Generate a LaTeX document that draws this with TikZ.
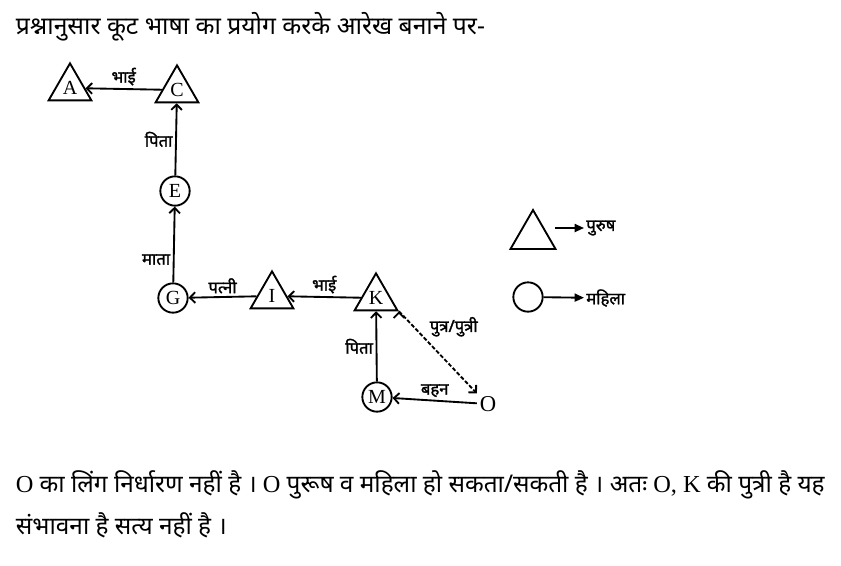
\documentclass[tikz,border=0pt]{standalone}
\usepackage{fontspec}
\setmainfont{Liberation Serif}
\newfontfamily\hindi[Script=Devanagari]{Noto Sans}
\newfontfamily\hindibold[Script=Devanagari, FakeBold=1.5]{Noto Sans}
\usetikzlibrary{shapes.geometric,arrows.meta}

\begin{document}
\begin{tikzpicture}[x=0.75pt, y=-0.75pt, line width=1.4pt,
male_style/.style={regular polygon, regular polygon sides=3, draw=black, minimum size=37pt, inner sep=0pt, font=\fontsize{15}{15}\selectfont},
female_style/.style={circle, draw=black, minimum size=22pt, inner sep=0pt, font=\fontsize{15}{15}\selectfont},
edge_style/.style={draw=black, line width=1.4pt, -{Straight Barb[length=4pt,width=8pt]}},
dash_style/.style={edge_style, dash pattern=on 3pt off 1.5pt},
label_style/.style={font=\hindibold\fontsize{12.5}{12.5}\selectfont, inner sep=2pt},
legend_edge/.style={draw=black, line width=1.4pt, -{Triangle[length=7pt,width=6pt]}},
text_style/.style={anchor=west, inner sep=0pt, font=\fontsize{18.3}{18.3}\selectfont}]
\useasboundingbox (0,0) rectangle (841,565);

\node[text_style, font=\hindi\fontsize{18.5}{18.5}\selectfont] (title) at (15,27) {प्रश्नानुसार कूट भाषा का प्रयोग करके आरेख बनाने पर-};

\node[male_style] (A) at (70,88) {A};
\node[male_style] (C) at (177,90) {C};
\node[female_style] (E) at (175,191) {E};
\node[female_style] (G) at (173,298) {G};
\node[male_style] (I) at (272,296) {I};
\node[male_style] (K) at (376,298) {K};
\node[female_style] (M) at (377,397) {M};
\node[inner sep=1.5pt, font=\fontsize{17}{17}\selectfont] (O) at (488,404) {O};

\draw[edge_style] (C) edge node[label_style, above]{भाई} (A);
\draw[edge_style] (E) edge node[label_style, left]{पिता} (C);
\draw[edge_style] (G) edge node[label_style, left, pos=0.3]{माता} (E);
\draw[edge_style] (I) edge node[label_style, above]{पत्नी} (G);
\draw[edge_style] (K) edge node[label_style, above]{भाई} (I);
\draw[edge_style] (M) edge node[label_style, left]{पिता} (K);
\draw[edge_style] (O) edge node[label_style, above]{बहन} (M);
\draw[dash_style] (K.corner 3) edge node[label_style, above right, pos=0.35]{पुत्र/पुत्री} (O.north west);

% legend
\node[male_style, minimum size=39pt] (legend_m) at (533,236) {};
\coordinate (legend_m_tail) at (555,228);
\node[label_style, anchor=west, inner sep=1pt] (legend_m_text) at (584,228) {पुरुष};
\draw[legend_edge] (legend_m_tail) -- (legend_m_text);
\node[female_style] (legend_f) at (528,297) {};
\node[label_style, anchor=west, inner sep=1pt] (legend_f_text) at (584,298) {महिला};
\draw[legend_edge] (legend_f) -- (legend_f_text);

\node[text_style] (note_a) at (15,485) {O {\hindi का लिंग निर्धारण नहीं है ।} O {\hindi पुरूष व महिला हो सकता/सकती है । अतः} O, K {\hindi की पुत्री है यह}};
\node[text_style] (note_b) at (15,525) {\hindi संभावना है सत्य नहीं है ।};
\end{tikzpicture}
\end{document}
